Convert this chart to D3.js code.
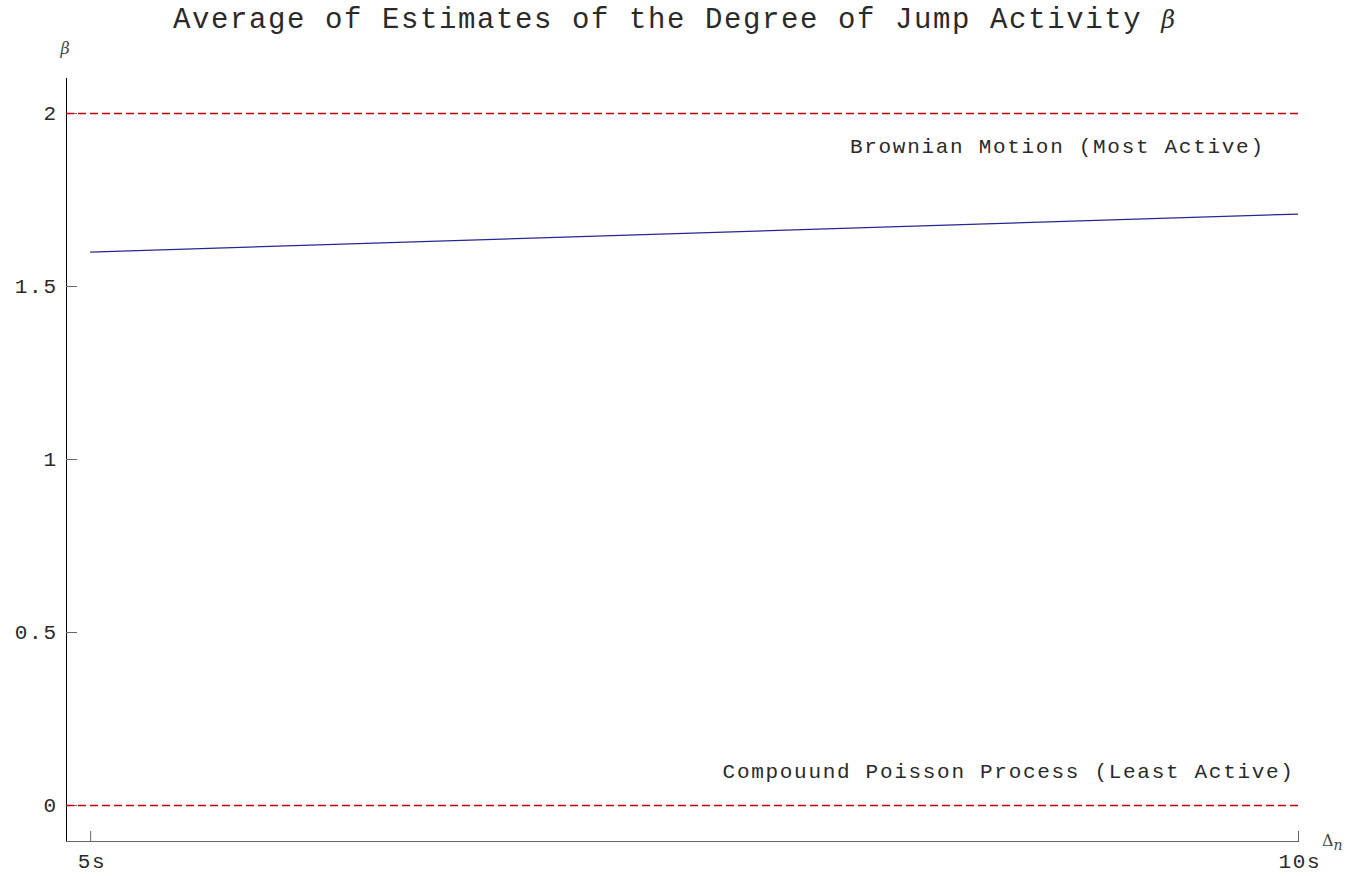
<!DOCTYPE html>
<html><head><meta charset="utf-8">
<script src="https://cdn.jsdelivr.net/npm/d3@7"></script>
<style>body{margin:0;background:#fff}svg{display:block}</style>
</head><body>
<script>
const xTickValues = [5, 10];
const xTickLabels = ["5s", "10s"];
const yTickValues = [0, 0.5, 1, 1.5, 2];
const yTickLabels = ["0", "0.5", "1", "1.5", "2"];
const lineX = [5, 10];
const lineBeta = [1.598, 1.708];
const refValues = [2, 0];
const refLabels = ["Brownian Motion (Most Active)", "Compouund Poisson Process (Least Active)"];

const W = 1352, H = 876;
const mono = "'Liberation Mono', 'Courier New', monospace";
const serif = "'DejaVu Serif', 'Liberation Serif', serif";
const txt = "#2a2a2a";
const svg = d3.select("body").append("svg").attr("width", W).attr("height", H);

const x = d3.scaleLinear().domain([4.9, 10]).range([66, 1298]);
const y = d3.scaleLinear().domain([0, 2]).range([805, 113]);
const yTop = y.invert(78), yBot = y.invert(841);
const FS = 21, LS = 1.7; // label font size and letter spacing

// title
const t = svg.append("text").attr("x", 173).attr("y", 28)
  .attr("font-family", mono).attr("font-size", 29).attr("letter-spacing", 1.6).attr("fill", txt)
  .text("Average of Estimates of the Degree of Jump Activity ");
t.append("tspan").attr("font-family", serif).attr("font-style", "italic").attr("font-size", 24).attr("letter-spacing", 0).text("β");

// axes
svg.append("line").attr("x1", x(4.9) + 0.5).attr("x2", x(4.9) + 0.5).attr("y1", y(yTop)).attr("y2", y(yBot) + 1)
  .attr("stroke", "#000").attr("stroke-width", 1);
svg.append("line").attr("x1", x(4.9)).attr("x2", x(10) + 1).attr("y1", y(yBot) + 0.5).attr("y2", y(yBot) + 0.5)
  .attr("stroke", "#666").attr("stroke-width", 1);

// y ticks
yTickValues.forEach((v, i) => {
  svg.append("line").attr("x1", x(4.9)).attr("x2", x(4.9) + 11).attr("y1", y(v) + 0.5).attr("y2", y(v) + 0.5)
    .attr("stroke", "#666");
  svg.append("text").attr("x", 56 + LS).attr("y", y(v) + 7).attr("text-anchor", "end")
    .attr("font-family", mono).attr("font-size", FS).attr("letter-spacing", LS).attr("fill", txt).text(yTickLabels[i]);
});
// x ticks
xTickValues.forEach((v, i) => {
  svg.append("line").attr("x1", x(v) + 0.5).attr("x2", x(v) + 0.5).attr("y1", y(yBot)).attr("y2", y(yBot) - 10)
    .attr("stroke", "#666");
  svg.append("text").attr("x", x(v) + LS / 2 + 1).attr("y", 868).attr("text-anchor", "middle")
    .attr("font-family", mono).attr("font-size", FS).attr("letter-spacing", LS).attr("fill", txt).text(xTickLabels[i]);
});

// axis labels
svg.append("text").attr("x", 65).attr("y", 54).attr("text-anchor", "middle")
  .attr("font-family", serif).attr("font-style", "italic").attr("font-size", 16).attr("fill", "#444").text("β");
const dl = svg.append("text").attr("x", 1322).attr("y", 846).attr("font-family", serif).attr("font-size", 16).attr("fill", "#444");
dl.append("tspan").text("Δ");
dl.append("tspan").attr("font-style", "italic").attr("font-size", 14).attr("dy", 4).text("n");

// reference lines
refValues.forEach(v => {
  svg.append("line").attr("x1", x(4.9)).attr("x2", x(10)).attr("y1", y(v) + 0.5).attr("y2", y(v) + 0.5)
    .attr("stroke", "#c00000").attr("stroke-width", 1.3).attr("stroke-dasharray", "8,4");
});
svg.append("text").attr("x", 1263 + LS).attr("y", y(refValues[0]) + 40).attr("text-anchor", "end")
  .attr("font-family", mono).attr("font-size", FS).attr("letter-spacing", LS).attr("fill", txt).text(refLabels[0]);
svg.append("text").attr("x", 1293 + LS).attr("y", y(refValues[1]) - 27).attr("text-anchor", "end")
  .attr("font-family", mono).attr("font-size", FS).attr("letter-spacing", LS).attr("fill", txt).text(refLabels[1]);

// data line
const pts = lineX.map((v, i) => [v, lineBeta[i]]);
svg.append("path").attr("d", d3.line().x(d => x(d[0])).y(d => y(d[1]))(pts))
  .attr("fill", "none").attr("stroke", "#262690").attr("stroke-width", 1.2);
</script>
</body></html>
